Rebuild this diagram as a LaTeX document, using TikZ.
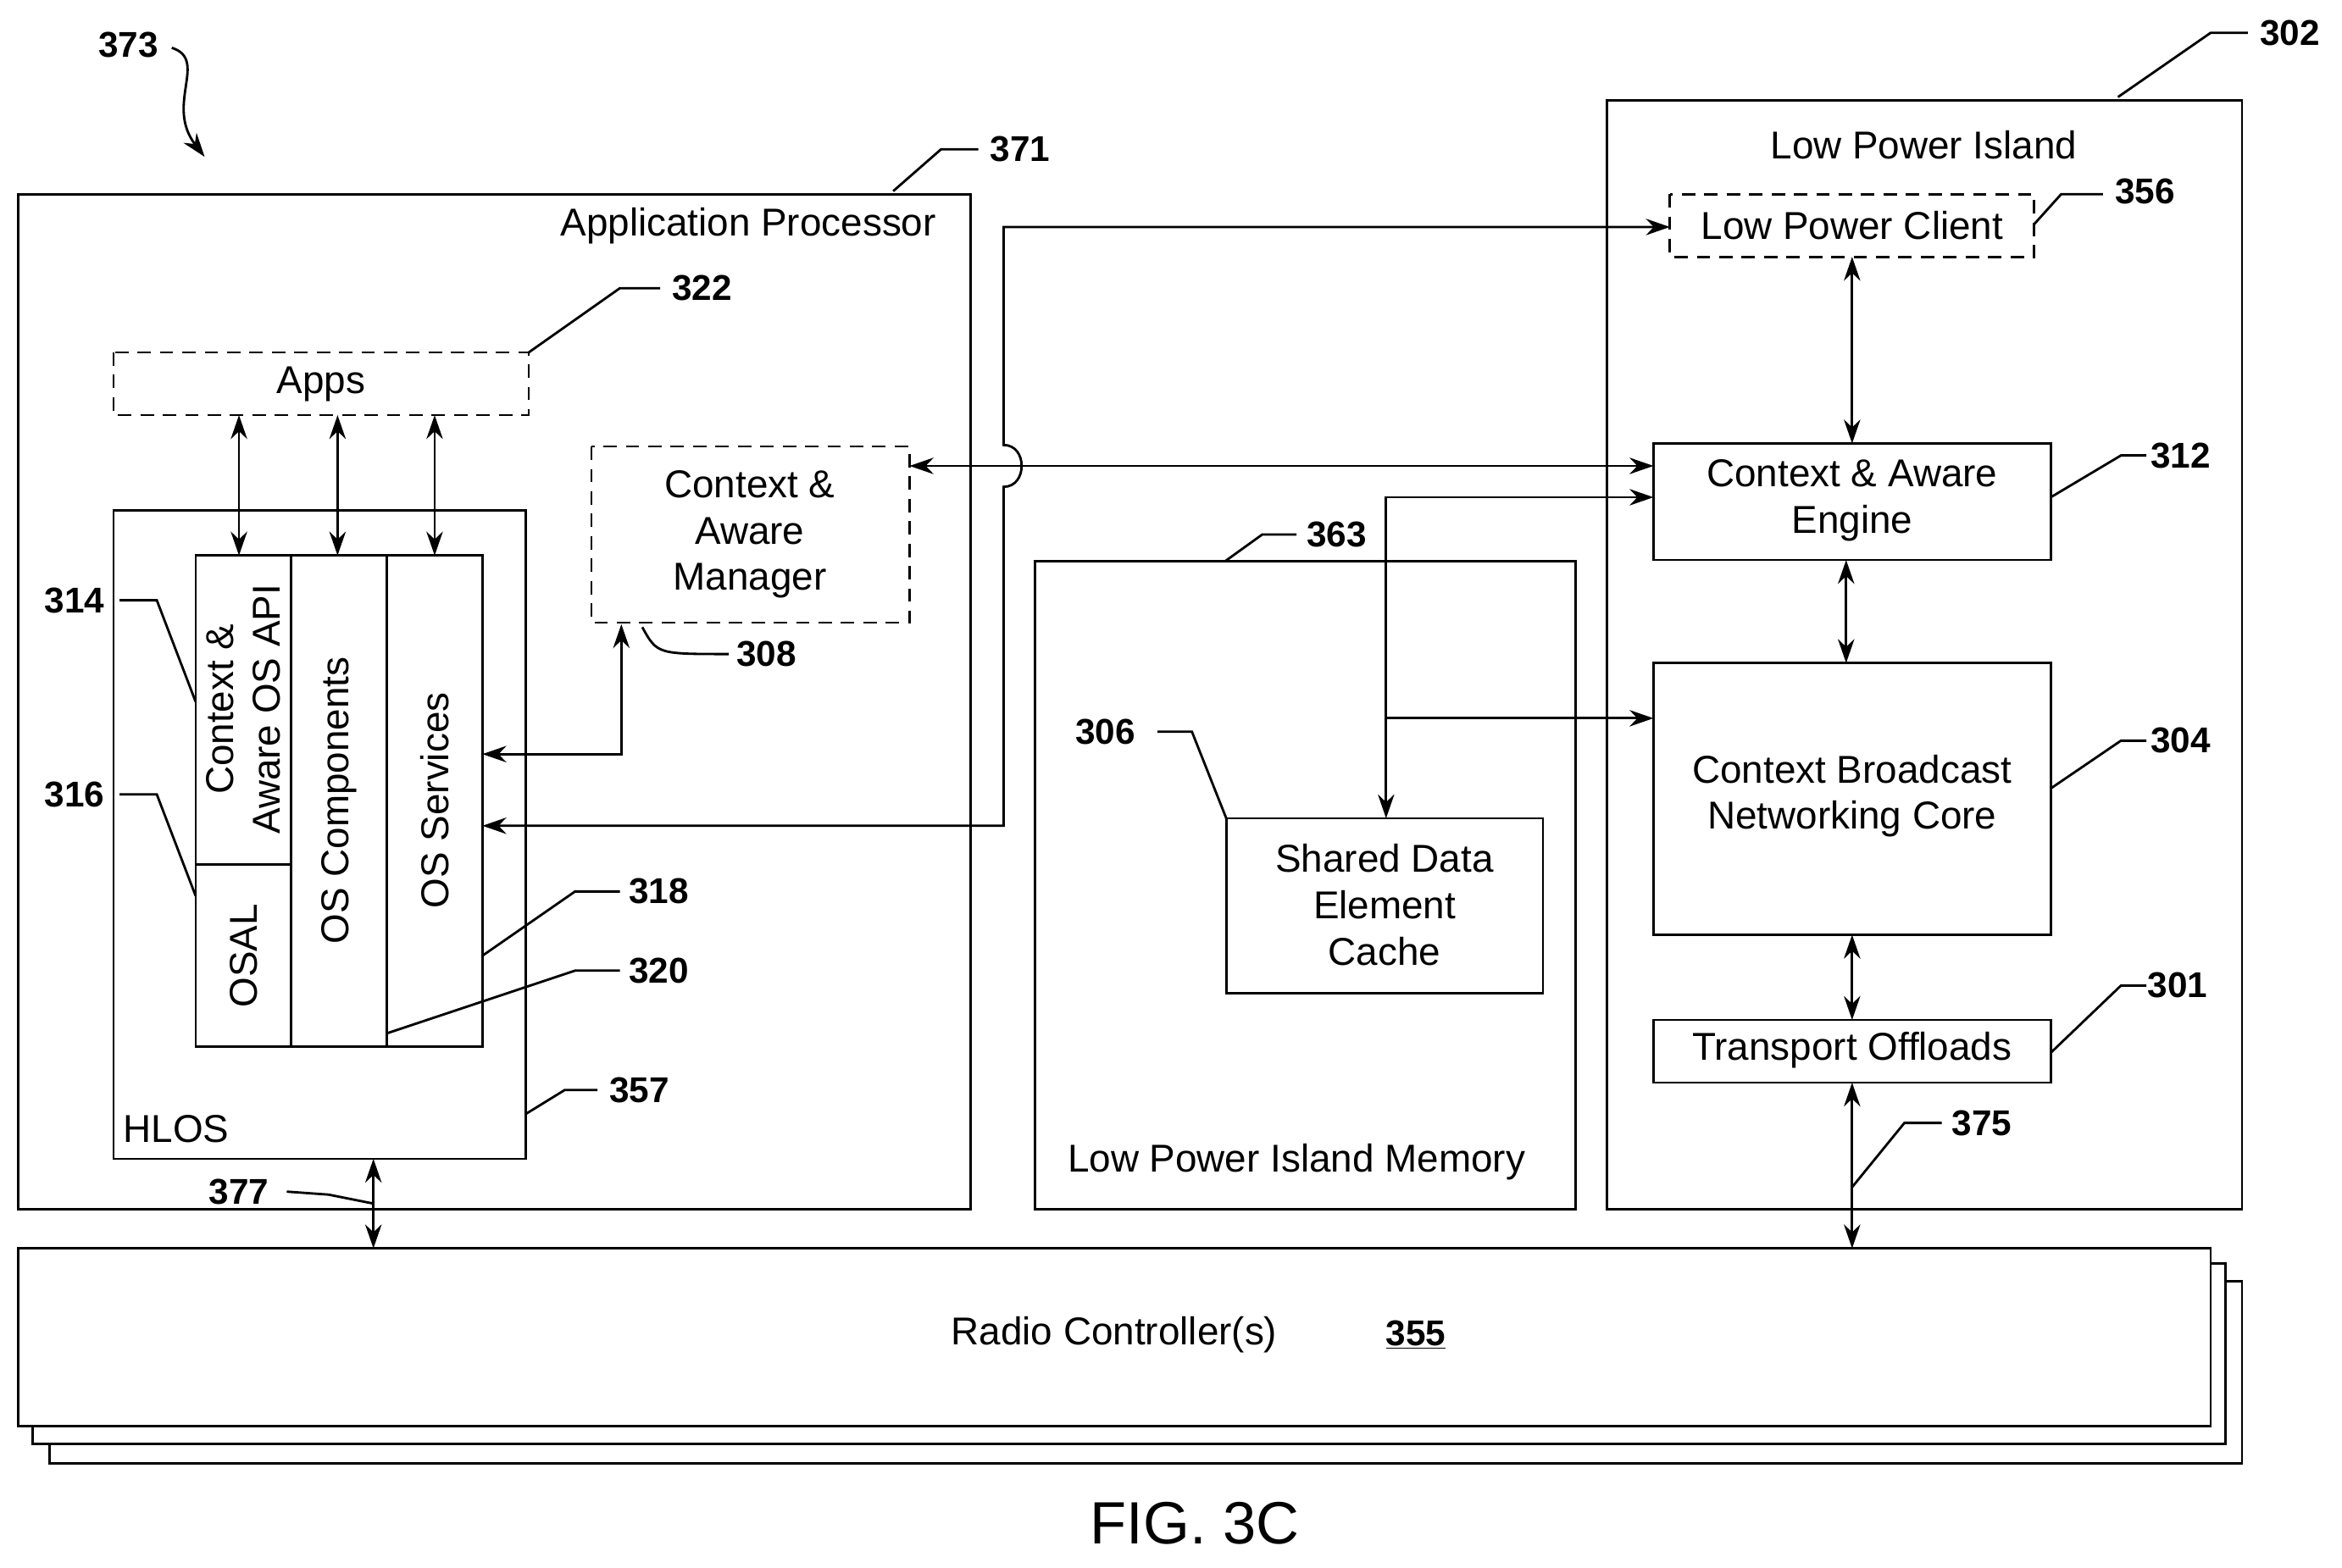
\documentclass[tikz,border=0pt]{standalone}
\usepackage{fontspec}
\setmainfont{Liberation Sans}
\usetikzlibrary{arrows.meta}
\begin{document}
\begin{tikzpicture}[x=1pt,y=-1pt,line width=1.6pt,
  txt/.style={font=\fontsize{26}{31}\selectfont,align=center,inner sep=0},
  num/.style={font=\fontsize{24}{28}\selectfont\bfseries,inner sep=0},
  box/.style={draw},
  dbox/.style={draw,dash pattern=on 9pt off 6pt},
  arr/.style={{Stealth[length=16pt,width=11pt]}-{Stealth[length=16pt,width=11pt]}},
  ar/.style={-{Stealth[length=16pt,width=11pt]}},
  lead/.style={line width=1.6pt}]
\useasboundingbox (0,0) rectangle (1568,1050);
% 373
\node[num] (n373) at (86,30) {373};
\draw[ar] (115,32) .. controls (140,40) and (110,70) .. (137,105);
% Application processor
\draw[box] (12,130) rectangle (650,810);
\node[txt] (apt) at (501,151) {Application Processor};
\node[num] (n371) at (683,100) {371};
\draw[lead] (598,128) -- (630,100) -- (655,100);
% Apps
\draw[dbox] (76,236) rectangle (354,278);
\node[txt] (apps) at (215,257) {Apps};
\node[num] (n322) at (470,193) {322};
\draw[lead] (354,236) -- (415,193) -- (442,193);
% HLOS
\draw[box] (76,342) rectangle (352,776);
\node[txt] (hlos) at (118,756) {HLOS};
\node[num] (n357) at (428,730) {357};
\draw[lead] (352,746) -- (378,730) -- (400,730);
\draw[box] (131,372) rectangle (323,701);
\draw (195,372) -- (195,701) (259,372) -- (259,701) (131,579) -- (195,579);
\node[txt,rotate=90] (api) at (163,475) {Context \&\\Aware OS API};
\node[txt,rotate=90] (osal) at (163,640) {OSAL};
\node[txt,rotate=90] (osc) at (227,536) {OS Components};
\node[txt,rotate=90] (oss) at (291,536) {OS Services};
\foreach \x in {160,226,291} \draw[arr] (\x,278) -- (\x,372);
\node[num] (n314) at (50,402) {314};
\draw[lead] (80,402) -- (105,402) -- (131,470);
\node[num] (n316) at (50,532) {316};
\draw[lead] (80,532) -- (105,532) -- (131,600);
\node[num] (n318) at (441,597) {318};
\draw[lead] (415,597) -- (385,597) -- (323,640);
\node[num] (n320) at (441,650) {320};
\draw[lead] (415,650) -- (385,650) -- (259,692);
% Manager
\draw[dbox] (396,299) rectangle (609,417);
\node[txt] (cam) at (502,358) {Context \&\\Aware\\Manager};
\node[num] (n308) at (513,438) {308};
\draw[lead] (430,420) .. controls (440,438) .. (488,438);
\draw[arr] (323,505) -- (416,505) -- (416,418);
% long arrow to Low Power Client
\draw[arr] (323,553) -- (672,553) -- (672,326) .. controls (688,326) and (688,298) .. (672,298) -- (672,152) -- (1118,152);
\draw[arr] (609,312) -- (1107,312);
% LPI memory
\draw[box] (693,376) rectangle (1055,810);
\node[txt] (lpim) at (868,778) {Low Power Island Memory};
\node[num] (n363) at (895,358) {363};
\draw[lead] (820,376) -- (845,358) -- (868,358);
\draw[box] (821,548) rectangle (1033,665);
\node[txt] (sdec) at (927,606) {Shared Data\\Element\\Cache};
\node[num] (n306) at (740,490) {306};
\draw[lead] (775,490) -- (798,490) -- (821,548);
\draw[arr] (1107,333) -- (928,333) -- (928,548);
\draw[ar] (928,481) -- (1107,481);
% Low power island
\draw[box] (1076,67) rectangle (1501,810);
\node[txt] (lpi) at (1288,97) {Low Power Island};
\node[num] (n302) at (1533,22) {302};
\draw[lead] (1418,65) -- (1480,22) -- (1505,22);
\draw[dbox] (1118,130) rectangle (1362,172);
\node[txt] (lpc) at (1240,151) {Low Power Client};
\node[num] (n356) at (1436,128) {356};
\draw[lead] (1362,150) -- (1380,130) -- (1408,130);
\draw[box] (1107,297) rectangle (1373,375);
\node[txt] (cae) at (1240,335) {Context \& Aware\\Engine};
\node[num] (n312) at (1460,305) {312};
\draw[lead] (1373,333) -- (1420,305) -- (1437,305);
\draw[arr] (1240,172) -- (1240,297);
\draw[box] (1107,444) rectangle (1373,626);
\node[txt] (cbnc) at (1240,533) {Context Broadcast\\Networking Core};
\node[num] (n304) at (1460,496) {304};
\draw[lead] (1373,528) -- (1420,496) -- (1437,496);
\draw[arr] (1236,375) -- (1236,444);
\draw[box] (1107,683) rectangle (1373,725);
\node[txt] (to) at (1240,703) {Transport Offloads};
\node[num] (n301) at (1458,660) {301};
\draw[lead] (1373,705) -- (1420,660) -- (1437,660);
\draw[arr] (1240,626) -- (1240,683);
\draw[arr] (1240,725) -- (1240,836);
\node[num] (n375) at (1327,752) {375};
\draw[lead] (1240,795) -- (1275,752) -- (1300,752);
% Radio controllers
\draw[box,fill=white] (33,858) rectangle (1501,980);
\draw[box,fill=white] (22,846) rectangle (1490,967);
\draw[box,fill=white] (12,836) rectangle (1480,955);
\node[txt] (rc) at (746,894) {Radio Controller(s)};
\node[num] (n355) at (948,894) {\underline{355}};
\draw[arr] (250,776) -- (250,836);
\node[num] (n377) at (160,798) {377};
\draw[lead] (192,798) -- (220,800) -- (250,806);
\node[txt,font=\fontsize{40}{46}\selectfont] (fig) at (800,1020) {FIG. 3C};
\end{tikzpicture}
\end{document}
